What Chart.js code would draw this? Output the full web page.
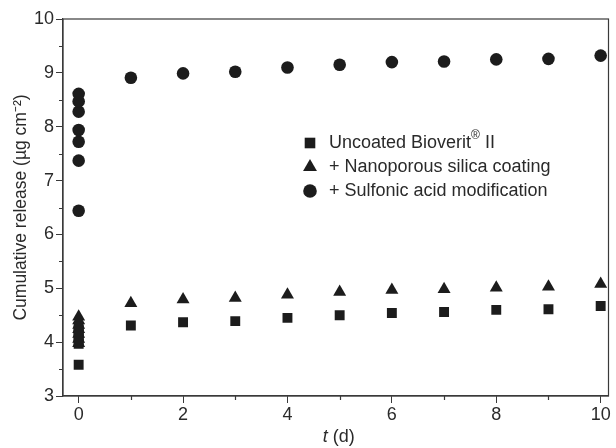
<!DOCTYPE html>
<html>
<head>
<meta charset="utf-8">
<script src="https://cdn.jsdelivr.net/npm/chart.js@4.4.1/dist/chart.umd.min.js"></script>
<style>
  body { margin: 0; background: #fff; }
  canvas { display: block; }
</style>
</head>
<body>
<canvas id="myChart" width="616" height="448"></canvas>
<script>
// days; the first seven readings sit at t = 0 (first hours)
const days = [0, 0, 0, 0, 0, 0, 0, 1, 2, 3, 4, 5, 6, 7, 8, 9, 10];

const uncoated = [3.58, 3.97, 4.03, 4.10, 4.16, 4.22, 4.28,
  4.31, 4.37, 4.39, 4.45, 4.50, 4.54, 4.56, 4.60, 4.61, 4.67];
const silica = [3.98, 4.06, 4.15, 4.24, 4.32, 4.40, 4.47,
  4.72, 4.79, 4.82, 4.88, 4.93, 4.97, 4.98, 5.01, 5.03, 5.08];
const sulfonic = [6.44, 7.37, 7.72, 7.94, 8.28, 8.47, 8.61,
  8.91, 8.99, 9.02, 9.10, 9.15, 9.20, 9.21, 9.25, 9.26, 9.32];

const xTicks = [0, 2, 4, 6, 8, 10];
const xMinor = [1, 3, 5, 7, 9];
const yTicks = [3, 4, 5, 6, 7, 8, 9, 10];
const yMinor = [3.5, 4.5, 5.5, 6.5, 7.5, 8.5, 9.5];

const seriesNames = ['Uncoated Bioverit', '+ Nanoporous silica coating', '+ Sulfonic acid modification'];

const ink = '#1c1c1c';
const axisColor = '#3a3a3a';
const textColor = '#2a2a2a';
const font = '"Liberation Sans", Arial, sans-serif';

function toPoints(values) {
  return values.map((v, i) => ({ x: days[i], y: v }));
}

// draws the minor ticks, the frame, the legend box and axis titles
const extras = {
  id: 'extras',
  afterDraw(chart) {
    const ctx = chart.ctx;
    const area = chart.chartArea;
    const xs = chart.scales.x;
    const ys = chart.scales.y;
    ctx.save();

    // frame
    ctx.strokeStyle = axisColor;
    ctx.lineWidth = 1.2;
    ctx.strokeRect(area.left, area.top, area.right - area.left, area.bottom - area.top);

    // minor ticks
    ctx.beginPath();
    xMinor.forEach(v => {
      const px = Math.round(xs.getPixelForValue(v)) + 0.5;
      ctx.moveTo(px, area.bottom);
      ctx.lineTo(px, area.bottom + 4);
    });
    yMinor.forEach(v => {
      const py = Math.round(ys.getPixelForValue(v)) + 0.5;
      ctx.moveTo(area.left, py);
      ctx.lineTo(area.left - 4, py);
    });
    ctx.stroke();

    // legend
    const rows = [143, 167, 191];
    chart.data.datasets.forEach((ds, i) => {
      ctx.fillStyle = ink;
      Chart.helpers.drawPoint(ctx, {
        pointStyle: ds.pointStyle,
        radius: ds.pointRadius + 0.5,
        rotation: 0,
        borderWidth: 0
      }, 310, rows[i]);
      ctx.fillStyle = textColor;
      ctx.font = '18px ' + font;
      ctx.textBaseline = 'middle';
      ctx.textAlign = 'left';
      let x = 329;
      ctx.fillText(seriesNames[i], x, rows[i]);
      if (i === 0) {
        x += ctx.measureText(seriesNames[i]).width;
        ctx.font = '12px ' + font;
        ctx.fillText('\u00AE', x, rows[i] - 7);
        x += ctx.measureText('\u00AE').width;
        ctx.font = '18px ' + font;
        ctx.fillText(' II', x, rows[i]);
      }
    });

    // x title: italic t
    ctx.fillStyle = textColor;
    ctx.textBaseline = 'middle';
    ctx.textAlign = 'left';
    ctx.font = 'italic 18px ' + font;
    const tW = ctx.measureText('t').width;
    ctx.font = '18px ' + font;
    const restW = ctx.measureText(' (d)').width;
    const cx = (area.left + area.right) / 2 + 3;
    const sx = cx - (tW + restW) / 2;
    ctx.font = 'italic 18px ' + font;
    ctx.fillText('t', sx, 437);
    ctx.font = '18px ' + font;
    ctx.fillText(' (d)', sx + tW, 437);

    // y title
    ctx.translate(21, (area.top + area.bottom) / 2);
    ctx.rotate(-Math.PI / 2);
    ctx.textAlign = 'center';
    ctx.font = '17.5px ' + font;
    ctx.fillText('Cumulative release (\u00B5g cm\u207B\u00B2)', 0, 0);
    ctx.restore();
  }
};

const chartData = {
  datasets: [{
    label: seriesNames[0],
    data: toPoints(uncoated),
    pointStyle: 'rect',
    pointRadius: 7,
    backgroundColor: ink,
    borderWidth: 0
  }, {
    label: seriesNames[1],
    data: toPoints(silica),
    pointStyle: 'triangle',
    pointRadius: 7.5,
    backgroundColor: ink,
    borderWidth: 0
  }, {
    label: seriesNames[2],
    data: toPoints(sulfonic),
    pointStyle: 'circle',
    pointRadius: 6.3,
    backgroundColor: ink,
    borderWidth: 0
  }]
};

const chartOptions = {
  responsive: false,
  animation: false,
  layout: {
    padding: { top: 19, right: 4, bottom: 0, left: 0 }
  },
  plugins: {
    legend: { display: false },
    tooltip: { enabled: false }
  },
  scales: {
    x: {
      type: 'linear',
      min: -0.3,
      max: 10.15,
      afterBuildTicks: scale => { scale.ticks = xTicks.map(v => ({ value: v })); },
      afterFit: scale => { scale.height = 52; },
      ticks: {
        color: textColor,
        font: { size: 18, family: font },
        padding: 1,
        maxRotation: 0,
        autoSkip: false
      },
      grid: {
        drawOnChartArea: false,
        drawTicks: true,
        tickLength: 7,
        tickColor: axisColor
      },
      border: { color: axisColor, width: 1.2 }
    },
    y: {
      type: 'linear',
      min: 3,
      max: 10,
      afterBuildTicks: scale => { scale.ticks = yTicks.map(v => ({ value: v })); },
      afterFit: scale => { scale.width = 63; },
      ticks: {
        color: textColor,
        font: { size: 18, family: font },
        padding: 2,
        autoSkip: false
      },
      grid: {
        drawOnChartArea: false,
        drawTicks: true,
        tickLength: 7,
        tickColor: axisColor
      },
      border: { color: axisColor, width: 1.2 }
    }
  }
};

const canvas = document.getElementById('myChart');
const ctx = canvas.getContext('2d');

// Create the chart
const myChart = new Chart(ctx, {
  type: 'scatter',
  data: chartData,
  options: chartOptions,
  plugins: [extras]
});
</script>
</body>
</html>
